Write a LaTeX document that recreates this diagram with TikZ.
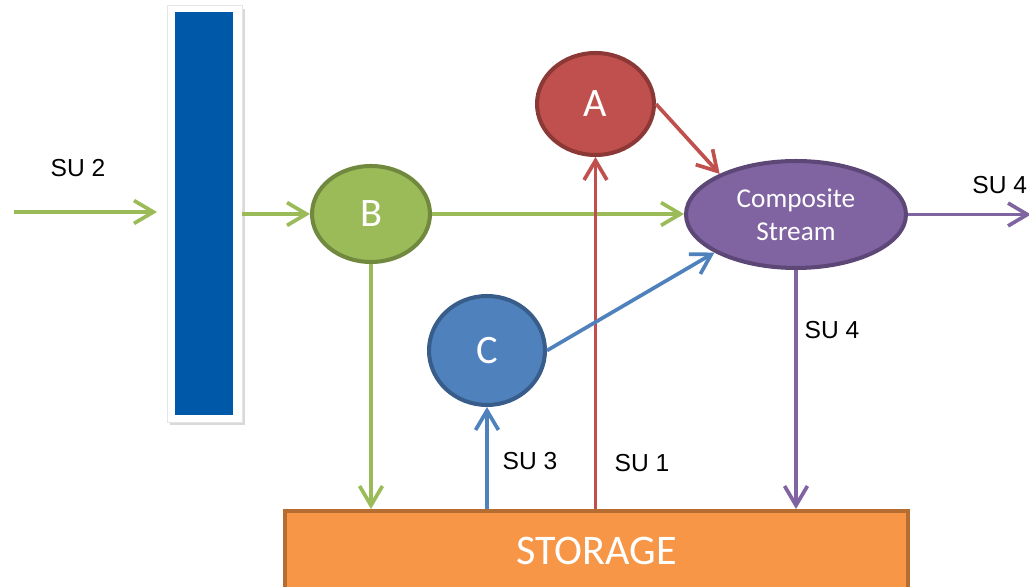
\documentclass[tikz,border=0pt]{standalone}
\usepackage{fontspec}
\setmainfont{Carlito}
\newfontfamily\sulabelfont{Liberation Sans}
\usetikzlibrary{arrows.meta,shapes.geometric,shadows,calc}

\definecolor{barblue}{RGB}{0,88,168}
\definecolor{sgreen}{RGB}{155,187,89}
\definecolor{sgreendk}{RGB}{113,137,63}
\definecolor{sred}{RGB}{192,80,77}
\definecolor{sreddk}{RGB}{140,56,54}
\definecolor{sblue}{RGB}{79,129,189}
\definecolor{sbluedk}{RGB}{56,93,138}
\definecolor{spurple}{RGB}{128,100,162}
\definecolor{spurpledk}{RGB}{92,71,118}
\definecolor{sorange}{RGB}{247,150,70}
\definecolor{sorangedk}{RGB}{182,109,49}

\begin{document}
\begin{tikzpicture}[x=0.02cm,y=-0.02cm,
    every node/.style={font=\small},
    unit/.style={ellipse,draw,line width=2.3pt,inner sep=0pt,text=white,
      font=\fontsize{23}{27}\selectfont},
    sulabel/.style={font=\sulabelfont\fontsize{14}{17}\selectfont},
    flow/.style={line width=2.1pt,-{Straight Barb[length=11pt,width=13pt]}}]
    \useasboundingbox (0,0) rectangle (1029,587);
    \clip (0,0) rectangle (1029,587);
    % screen
    \node[fill=white,draw=black!10,minimum width=1.5cm,minimum height=8.34cm,
      drop shadow={shadow xshift=1.5pt,shadow yshift=-2pt,opacity=0.3}] (bar) at (204.5,213.5) {};
    \node[fill=barblue,minimum width=1.16cm,minimum height=8.06cm] (screen) at (204,213.5) {};
    % units
    \node[unit,fill=sgreen,draw=sgreendk,minimum width=2.36cm,minimum height=1.92cm] (B) at (371,214) {B};
    \node[unit,fill=sred,draw=sreddk,minimum width=2.34cm,minimum height=2.04cm] (A) at (595.5,104) {A};
    \node[unit,fill=sblue,draw=sbluedk,minimum width=2.32cm,minimum height=2.18cm] (C) at (487,350.5) {C};
    \node[unit,fill=spurple,draw=spurpledk,minimum width=4.4cm,minimum height=2.14cm,
      font=\fontsize{15.5}{19}\selectfont,align=center] (comp) at (796,214.5) {Composite\\Stream};
    \node[fill=sorange,draw=sorangedk,line width=2.3pt,minimum width=12.46cm,minimum height=1.6cm,
      text=white,font=\fontsize{24}{28}\selectfont] (store) at (596.5,551) {STORAGE};
    % free ends
    \coordinate (in) at (14,212);
    \coordinate (out) at (1031,214.5);
    % flows
    \draw[flow,sgreen,shorten >=5.5pt] (in) -- (in -| bar.west);
    \draw[flow,sgreen] (bar.east |- B.west) -- (B.west);
    \draw[flow,sgreen] (B.east) -- (B.east -| comp.west);
    \draw[flow,sgreen] (B.south) -- (B.south |- store.north);
    \draw[flow,sred] (A.east) -- (comp.152);
    \draw[flow,sred] (A.south |- store.north) -- (A.south);
    \draw[flow,sblue] (C.east) -- (comp.205);
    \draw[flow,sblue] (C.south |- store.north) -- (C.south);
    \draw[flow,spurple] (comp.east) -- (out);
    \draw[flow,spurple] (comp.south) -- (comp.south |- store.north);
    % labels
    \node[sulabel] (su2) at (78,168) {SU 2};
    \node[sulabel,anchor=west,inner sep=0pt] (su4a) at (972,185) {SU 4};
    \node[sulabel] (su4b) at (832,330) {SU 4};
    \node[sulabel] (su3) at (530,461) {SU 3};
    \node[sulabel] (su1) at (642,463) {SU 1};
\end{tikzpicture}
\end{document}
